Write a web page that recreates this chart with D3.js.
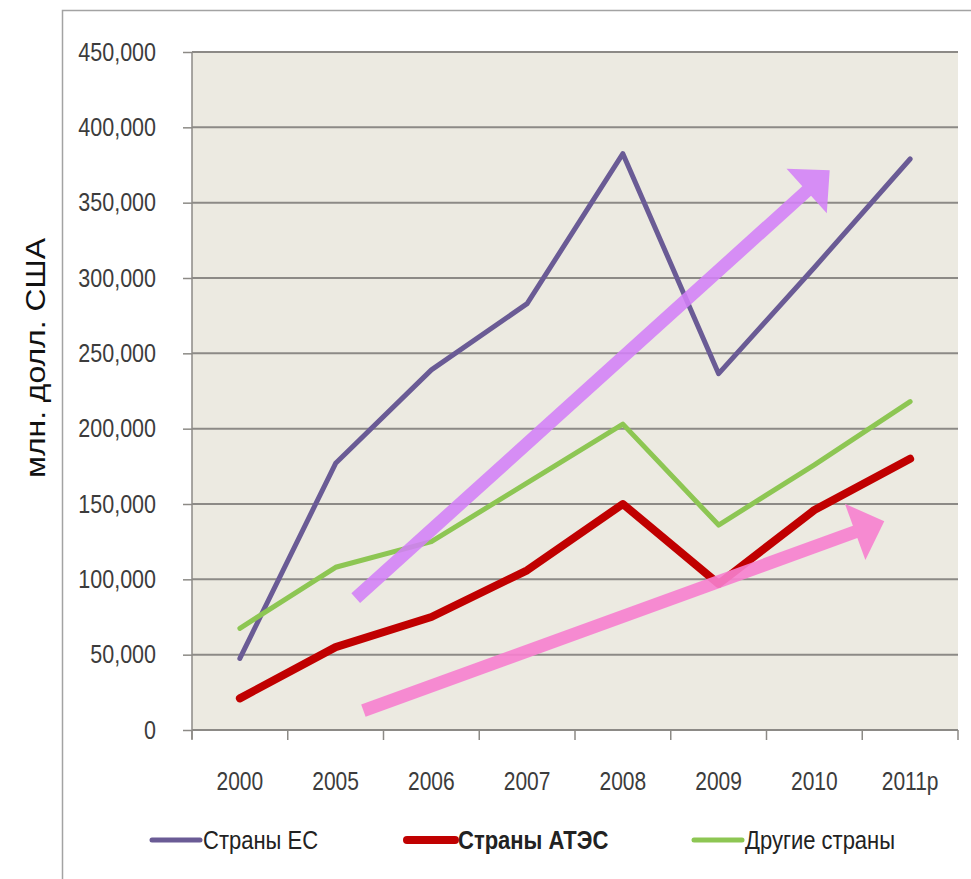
<!DOCTYPE html>
<html>
<head>
<meta charset="utf-8">
<script src="https://cdn.jsdelivr.net/npm/d3@7"></script>
<style>
  body { margin: 0; background: #fff; }
</style>
</head>
<body>
<div id="chart"></div>
<script>
/* Data */
const years = ["2000", "2005", "2006", "2007", "2008", "2009", "2010", "2011р"];
const euValues = [47500, 177000, 239000, 283000, 382500, 236500, 307000, 379000];
const apecValues = [21000, 55000, 75000, 106000, 150000, 97000, 146000, 180000];
const otherValues = [67500, 108000, 125000, 164000, 203000, 136000, 176000, 218000];
const seriesNames = ["Страны ЕС", "Страны АТЭС", "Другие страны"];
const yTicks = [0, 50000, 100000, 150000, 200000, 250000, 300000, 350000, 400000, 450000];
const yTitle = "млн. долл. США";
// trend arrows: [category index, value] for tail and tip
const euTrendArrow = [[1.21, 87500], [6.16, 371500]];
const apecTrendArrow = [[1.29, 12800], [6.73, 138500]];

/* Layout */
const W = 971, H = 879;
const plot = { left: 192, right: 958, top: 52, bottom: 730 };
const FONT = '"Liberation Sans", Arial, sans-serif';

const svg = d3.select("#chart").append("svg")
  .attr("width", W).attr("height", H);

// squeeze text horizontally (source uses a narrow face)
function condense(sel, k) {
  sel.each(function() {
    const w = this.getComputedTextLength();
    d3.select(this)
      .attr("textLength", w * k)
      .attr("lengthAdjust", "spacingAndGlyphs");
  });
}

// outer frame
svg.append("rect")
  .attr("x", 62.5).attr("y", 10.5)
  .attr("width", 1000).attr("height", 1000)
  .attr("fill", "#fff").attr("stroke", "#a3a3a3").attr("stroke-width", 1.5);

/* Scales */
const x = d3.scaleBand().domain(years).range([plot.left, plot.right]);
const y = d3.scaleLinear().domain([0, 450000]).range([plot.bottom, plot.top]);
const xIdx = d3.scaleLinear()
  .domain([0, years.length - 1])
  .range([x(years[0]) + x.bandwidth() / 2, x(years[years.length - 1]) + x.bandwidth() / 2]);

// plot background
svg.append("rect")
  .attr("x", plot.left).attr("y", plot.top)
  .attr("width", plot.right - plot.left).attr("height", plot.bottom - plot.top)
  .attr("fill", "#eceae1");

/* Y axis + grid */
const yAxis = svg.append("g")
  .attr("transform", `translate(${plot.left},0)`)
  .call(d3.axisLeft(y).tickValues(yTicks).tickSize(9).tickPadding(27)
    .tickFormat(d3.format(",")));
yAxis.select(".domain").attr("stroke", "#8c8a86").attr("stroke-width", 1.5)
  .attr("d", `M0,${plot.top}V${plot.bottom + 9}`);
yAxis.selectAll(".tick line").attr("stroke", "#8c8a86").attr("stroke-width", 1.5);
yAxis.selectAll(".tick text")
  .style("font-family", FONT).style("font-size", "25px").attr("fill", "#3c3c3c")
  .call(condense, 0.86);

svg.append("g").selectAll("line")
  .data(yTicks)
  .enter().append("line")
  .attr("x1", plot.left).attr("x2", plot.right)
  .attr("y1", d => y(d)).attr("y2", d => y(d))
  .attr("stroke", "#8c8a86").attr("stroke-width", 2);

/* X axis */
const xAxis = svg.append("g")
  .attr("transform", `translate(0,${plot.bottom})`)
  .call(d3.axisBottom(x).tickSize(0).tickPadding(42));
xAxis.select(".domain").remove();
xAxis.selectAll(".tick text")
  .style("font-family", FONT).style("font-size", "25px").attr("fill", "#3c3c3c")
  .call(condense, 0.84);

svg.append("g").selectAll("line")
  .data(years.map(d => x(d)).concat([plot.right]))
  .enter().append("line")
  .attr("x1", d => d).attr("x2", d => d)
  .attr("y1", plot.bottom).attr("y2", plot.bottom + 10)
  .attr("stroke", "#8c8a86").attr("stroke-width", 1.5);

/* Y title */
svg.append("text")
  .attr("transform", `translate(45,${(plot.top + plot.bottom) / 2 - 33}) rotate(-90)`)
  .attr("text-anchor", "middle")
  .style("font-family", FONT)
  .style("font-size", "27px")
  .attr("fill", "#111")
  .attr("textLength", 240)
  .attr("lengthAdjust", "spacingAndGlyphs")
  .text(yTitle);

/* Lines */
const series = [
  { name: seriesNames[0], values: euValues, color: "#6a5b95", width: 5 },
  { name: seriesNames[2], values: otherValues, color: "#8dc653", width: 5 },
  { name: seriesNames[1], values: apecValues, color: "#c00000", width: 8 }
];

const line = d3.line()
  .x((d, i) => x(years[i]) + x.bandwidth() / 2)
  .y(d => y(d));

svg.append("g").attr("class", "lines")
  .selectAll("path")
  .data(series)
  .enter().append("path")
  .attr("d", d => line(d.values))
  .attr("fill", "none")
  .attr("stroke", d => d.color)
  .attr("stroke-width", d => d.width)
  .attr("stroke-linecap", "round")
  .attr("stroke-linejoin", "round");

/* Trend arrows */
function arrowPath(arr) {
  const t = [xIdx(arr[0][0]), y(arr[0][1])];
  const p = [xIdx(arr[1][0]), y(arr[1][1])];
  const len = Math.hypot(p[0] - t[0], p[1] - t[1]);
  const u = [(p[0] - t[0]) / len, (p[1] - t[1]) / len];
  const n = [-u[1], u[0]];
  const w = 6.5, hl = 31, hw = 30;
  const b = [p[0] - u[0] * hl, p[1] - u[1] * hl];
  const pts = [
    [t[0] + n[0] * w, t[1] + n[1] * w],
    [b[0] + n[0] * w, b[1] + n[1] * w],
    [b[0] + n[0] * hw, b[1] + n[1] * hw],
    p,
    [b[0] - n[0] * hw, b[1] - n[1] * hw],
    [b[0] - n[0] * w, b[1] - n[1] * w],
    [t[0] - n[0] * w, t[1] - n[1] * w]
  ];
  return "M" + pts.map(q => q.join(",")).join("L") + "Z";
}

svg.append("path")
  .attr("d", arrowPath(euTrendArrow))
  .attr("fill", "#d37ff7").attr("fill-opacity", 0.88);
svg.append("path")
  .attr("d", arrowPath(apecTrendArrow))
  .attr("fill", "#f77fcf").attr("fill-opacity", 0.9);

/* Legend */
const legendItems = [
  { name: seriesNames[0], color: "#6a5b95", width: 5, x: 150, bold: false },
  { name: seriesNames[1], color: "#c00000", width: 8, x: 405, bold: true },
  { name: seriesNames[2], color: "#8dc653", width: 5, x: 692, bold: false }
];
const legend = svg.append("g").selectAll("g")
  .data(legendItems)
  .enter().append("g")
  .attr("transform", d => `translate(${d.x},840)`);
legend.append("line")
  .attr("x1", 2).attr("x2", 50)
  .attr("stroke", d => d.color)
  .attr("stroke-width", d => d.width)
  .attr("stroke-linecap", "round");
legend.append("text")
  .attr("x", 53).attr("dy", "0.35em")
  .style("font-family", FONT).style("font-size", "25px")
  .style("font-weight", d => d.bold ? "bold" : "normal")
  .attr("fill", "#222")
  .text(d => d.name)
  .call(condense, 0.88);
</script>
</body>
</html>
